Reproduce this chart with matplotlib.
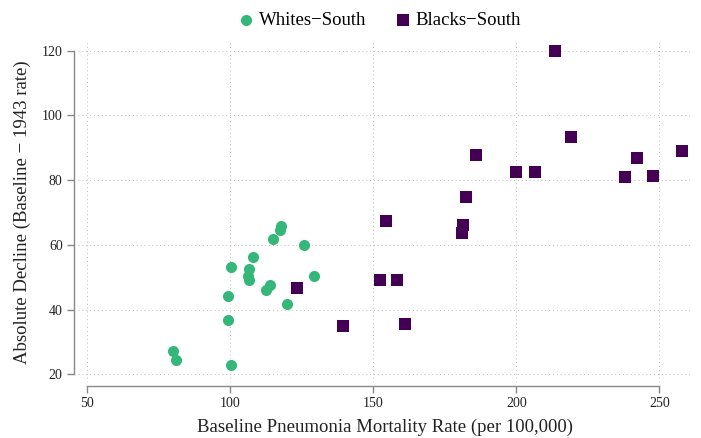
import matplotlib
matplotlib.use("Agg")
import matplotlib.pyplot as plt

plt.rcParams['font.family'] = ['Liberation Serif', 'DejaVu Serif']

white_x = [117.7, 117.5, 114.8, 125.7, 108.0, 100.2, 106.6, 106.3, 106.5,
           114.0, 112.5, 129.4, 99.1, 119.8, 99.3, 79.9, 80.9, 100.2]
white_y = [65.8, 64.6, 61.8, 60.1, 56.2, 53.2, 52.6, 50.5, 49.2,
           47.6, 46.1, 50.5, 44.1, 41.6, 36.8, 27.3, 24.5, 23.0]

black_x = [213.6, 219.2, 186.0, 258.0, 242.0, 199.7, 206.6, 238.1, 247.9,
           182.5, 154.5, 181.5, 181.1, 152.4, 158.4, 139.5, 161.2, 123.4]
black_y = [119.8, 93.3, 87.7, 88.9, 86.8, 82.4, 82.4, 80.9, 81.2,
           74.7, 67.3, 66.1, 63.6, 49.1, 49.1, 34.9, 35.5, 46.6]

x_ticks = [50, 100, 150, 200, 250]
y_ticks = [20, 40, 60, 80, 100, 120]

fig = plt.figure(figsize=(7.01, 4.38), dpi=100)
ax = fig.add_axes([78/701, 1-382/438, (692-78)/701, (382-42)/438])

ax.scatter(white_x, white_y, s=64, marker='o', color='#35B779',
           linewidths=0, label='Whites\u2212South', zorder=3)
ax.scatter(black_x, black_y, s=70, marker='s', color='#440154',
           linewidths=0, label='Blacks\u2212South', zorder=3)

ax.set_xlim(46.75, 261.4)
ax.set_ylim(17.6, 122.7)
ax.set_xticks(x_ticks)
ax.set_yticks(y_ticks)

ax.grid(True, linestyle=(0, (1, 3)), color='#bdbdbd', linewidth=0.7)
ax.set_axisbelow(True)

for s in ['top', 'right']:
    ax.spines[s].set_visible(False)
for s in ['left', 'bottom']:
    ax.spines[s].set_color('#888888')
    ax.spines[s].set_linewidth(1.0)
    ax.spines[s].set_position(('outward', 3))
ax.spines['bottom'].set_bounds(50, 250)
ax.spines['left'].set_bounds(20, 120)

ax.tick_params(axis='both', colors='#888888', labelcolor='#222222',
               labelsize=10, length=5, width=1.0, direction='out', pad=3)

ax.set_xlabel('Baseline Pneumonia Mortality Rate (per 100,000)', fontsize=13.5,
              color='#222222', labelpad=6)
ax.set_ylabel('Absolute Decline (Baseline \u2212 1943 rate)', fontsize=13.5,
              color='#222222', labelpad=8)

fig.legend(loc='upper center', bbox_to_anchor=(0.542, 1.012), ncol=2, frameon=False,
           fontsize=13.5, handlelength=0.8, handletextpad=0.25, columnspacing=1.6,
           markerscale=1.0)

fig.savefig('out.png', dpi=100)
